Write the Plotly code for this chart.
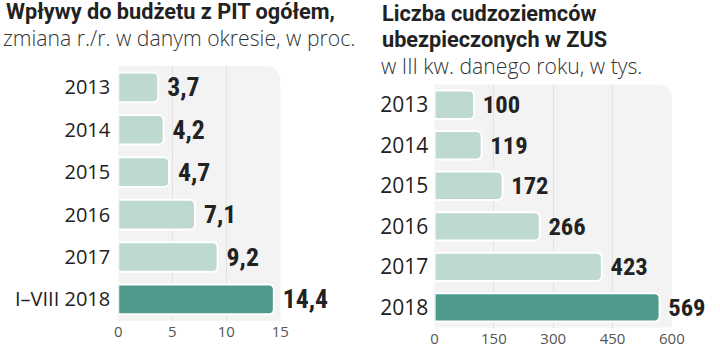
import plotly.graph_objects as go

# Left chart data
pit_labels = ["2013", "2014", "2015", "2016", "2017", "I–VIII 2018"]
pit_values = [3.7, 4.2, 4.7, 7.1, 9.2, 14.4]
pit_ticks = [0, 5, 10, 15]

# Right chart data
zus_labels = ["2013", "2014", "2015", "2016", "2017", "2018"]
zus_values = [100, 119, 172, 266, 423, 569]
zus_ticks = [0, 150, 300, 450, 600]

LIGHT = "#bed9d2"
DARK = "#4e9a8c"
PANEL = "#f3f3f3"
GRID = "#e2e2e2"
TXT = "#222222"
LABEL_FONT = "Open Sans"
VALUE_FONT = "Roboto Condensed"
TITLE_FONT = "Roboto"
NBSP = "\u00a0"

W, H = 720, 348


def colors(n):
    return [LIGHT] * (n - 1) + [DARK]


fig = go.Figure()

fig.add_trace(go.Bar(
    x=pit_values, y=pit_labels, orientation="h",
    marker=dict(color=colors(len(pit_values)), line=dict(color="white", width=2)),
    text=[NBSP + f"{v:.1f}".replace(".", ",") for v in pit_values],
    textposition="outside", cliponaxis=False,
    textfont=dict(family=VALUE_FONT, size=26, color=TXT, weight="bold"),
    xaxis="x", yaxis="y", hoverinfo="skip",
))

fig.add_trace(go.Bar(
    x=zus_values, y=zus_labels, orientation="h",
    marker=dict(color=colors(len(zus_values)), line=dict(color="white", width=2)),
    text=[NBSP + str(v) for v in zus_values],
    textposition="outside", cliponaxis=False,
    textfont=dict(family=VALUE_FONT, size=26, color=TXT, weight="bold"),
    xaxis="x2", yaxis="y2", hoverinfo="skip",
))


def px_x(a, b):
    return [a / W, b / W]


def px_y(top, bottom):
    return [(H - bottom) / H, (H - top) / H]


axis_tick_font = dict(family=LABEL_FONT, size=15, color="#555555")

fig.update_layout(
    width=W, height=H,
    margin=dict(l=0, r=0, t=0, b=0),
    paper_bgcolor="white", plot_bgcolor="rgba(0,0,0,0)",
    showlegend=False, barmode="group", bargap=0.3,
    barcornerradius=5,
    xaxis=dict(domain=px_x(117, 283), range=[0, 15], tickvals=pit_ticks,
               showgrid=True, gridcolor=GRID, gridwidth=1, zeroline=False,
               showline=False, tickfont=axis_tick_font, ticks="",
               fixedrange=True),
    yaxis=dict(domain=px_y(66.5, 322.5), range=[5.5, -0.5], type="category",
               categoryorder="array", categoryarray=pit_labels,
               showgrid=False, zeroline=False, showline=False,
               tickfont=dict(family=LABEL_FONT, size=20, color=TXT),
               ticks="outside", ticklen=3,
               tickcolor="rgba(0,0,0,0)", fixedrange=True),
    xaxis2=dict(domain=px_x(441, 684), range=[0, 600], tickvals=zus_ticks,
                showgrid=True, gridcolor=GRID, gridwidth=1, zeroline=False,
                showline=False, tickfont=axis_tick_font, ticks="",
                fixedrange=True, anchor="y2"),
    yaxis2=dict(domain=px_y(85, 329.5), range=[5.5, -0.5], type="category",
                categoryorder="array", categoryarray=zus_labels,
                showgrid=False, zeroline=False, showline=False,
                tickfont=dict(family=LABEL_FONT, size=21, color=TXT),
                ticks="outside", ticklen=1, tickcolor="rgba(0,0,0,0)",
                fixedrange=True, anchor="x2"),
)


# Rounded background panels (top-right corner rounded)
def panel(xref, yref, rx, ry):
    path = (f"M 0,0 L 0,1 L {1 - rx},1 Q 1,1 1,{1 - ry} L 1,0 Z")
    return dict(type="path", xref=xref, yref=yref, path=path,
                fillcolor=PANEL, line=dict(width=0), layer="below")


fig.add_shape(**panel("x domain", "y domain", 16 / 166, 16 / 256))
fig.add_shape(**panel("x2 domain", "y2 domain", 16 / 243, 16 / 244))

# Titles
title_font = dict(family=TITLE_FONT, size=21.7, color=TXT, weight="bold")
sub_font = dict(family="Open Sans", size=21.2, color="#333333", weight=300)


def txt(text, x, y, font):
    fig.add_annotation(text=text, x=x / W, y=1 - y / H, xref="paper", yref="paper",
                       xanchor="left", yanchor="middle", showarrow=False,
                       font=font)


txt("Wpływy do budżetu z PIT ogółem,", 0, 12, title_font)
txt("zmiana r./r. w danym okresie, w proc.", -3, 38, sub_font)
txt("Liczba cudzoziemców", 385, 14, title_font)
txt("ubezpieczonych w ZUS", 385, 40, title_font)
txt("w III kw. danego roku, w tys.", 384, 66, sub_font)

fig.write_html("out.html")
